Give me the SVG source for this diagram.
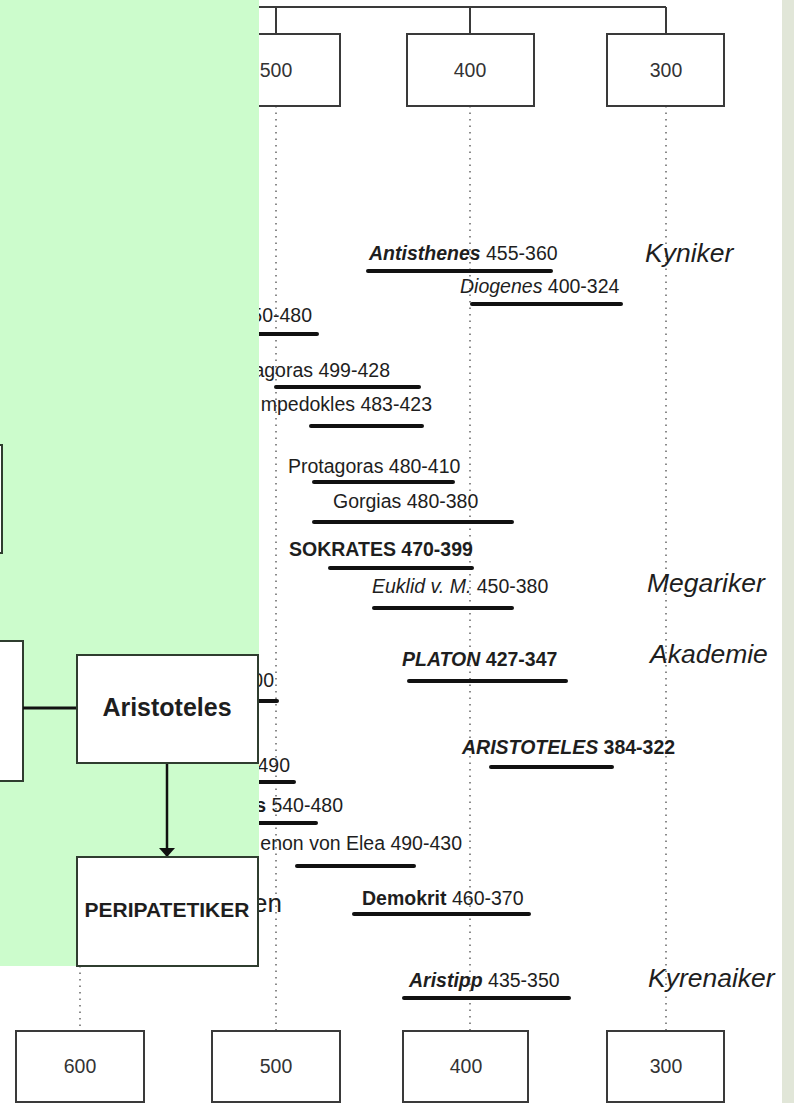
<svg xmlns="http://www.w3.org/2000/svg" width="794" height="1103" viewBox="0 0 794 1103">
<style>
text{font-family:"Liberation Sans",Arial,sans-serif;fill:#1e1e1e}
.yr{font-size:19.5px;text-anchor:middle;fill:#333}
.lb{font-size:19.5px}
.sch{font-size:26.5px;font-style:italic}
.b{font-weight:bold}
.i{font-style:italic}
.box{fill:#fff;stroke:#3a3a3a;stroke-width:2}
.gbox{fill:#fff;stroke:#2f3d2f;stroke-width:2}
.bar{stroke:#111;stroke-width:4;stroke-linecap:round}
.dot{stroke:#666;stroke-width:1.5;stroke-dasharray:1.5 5;fill:none}
.ln{stroke:#3a3a3a;stroke-width:2;fill:none}
</style>
<defs>
<marker id="ah" markerWidth="9" markerHeight="16" refX="9" refY="8" orient="auto" markerUnits="userSpaceOnUse" viewBox="0 0 9 16">
<path d="M0,0 L9,8 L0,16 Z" fill="#111"/>
</marker>
</defs>
<rect width="794" height="1103" fill="#fff"/>
<rect x="782" y="0" width="12" height="1103" fill="#e1e6d8"/>

<g id="connectors">
<path class="ln" d="M259,7 H666 M276,7 V34 M470,7 V34 M666,7 V34"/>
<path class="dot" d="M276,106 V1031 M470,106 V1031 M666,106 V1031 M80,966 V1031"/>
</g>

<g id="top-500"><rect class="box" x="212" y="34" width="128" height="72"/><text class="yr" x="276" y="77">500</text></g>
<g id="top-400"><rect class="box" x="407" y="34" width="127" height="72"/><text class="yr" x="470" y="77">400</text></g>
<g id="top-300"><rect class="box" x="607" y="34" width="117" height="72"/><text class="yr" x="666" y="77">300</text></g>

<g id="bot-600"><rect class="box" x="16" y="1031" width="128" height="71"/><text class="yr" x="80" y="1073">600</text></g>
<g id="bot-500"><rect class="box" x="212" y="1031" width="128" height="71"/><text class="yr" x="276" y="1073">500</text></g>
<g id="bot-400"><rect class="box" x="403" y="1031" width="125" height="71"/><text class="yr" x="466" y="1073">400</text></g>
<g id="bot-300"><rect class="box" x="607" y="1031" width="117" height="71"/><text class="yr" x="666" y="1073">300</text></g>

<g id="antisthenes"><text class="lb" x="369" y="260"><tspan class="b i">Antisthenes</tspan> 455-360</text><line class="bar" x1="368" y1="271" x2="551" y2="271"/></g>
<g id="diogenes"><text class="lb" x="460" y="293"><tspan class="i">Diogenes</tspan> 400-324</text><line class="bar" x1="472" y1="304" x2="621" y2="304"/></g>
<g id="p1"><text class="lb" x="312" y="322" text-anchor="end">50-480</text><line class="bar" x1="250" y1="334" x2="317" y2="334"/></g>
<g id="anaxagoras"><text class="lb" x="390" y="377" text-anchor="end">agoras 499-428</text><line class="bar" x1="276" y1="387" x2="419" y2="387"/></g>
<g id="empedokles"><text class="lb" x="432" y="411" text-anchor="end">mpedokles 483-423</text><line class="bar" x1="311" y1="426" x2="422" y2="426"/></g>
<g id="protagoras"><text class="lb" x="288" y="473">Protagoras 480-410</text><line class="bar" x1="314" y1="482" x2="453" y2="482"/></g>
<g id="gorgias"><text class="lb" x="333" y="508">Gorgias 480-380</text><line class="bar" x1="314" y1="522" x2="512" y2="522"/></g>
<g id="sokrates"><text class="lb b" x="289" y="556">SOKRATES 470-399</text><line class="bar" x1="330" y1="568" x2="472" y2="568"/></g>
<g id="euklid"><text class="lb" x="372" y="593"><tspan class="i">Euklid v. M.</tspan> 450-380</text><line class="bar" x1="374" y1="608" x2="512" y2="608"/></g>
<g id="megariker"><text class="sch" x="647" y="592">Megariker</text></g>
<g id="akademie"><text class="sch" x="650" y="663">Akademie</text></g>
<g id="platon"><text class="lb b" x="402" y="666"><tspan class="i">PLATON</tspan> 427-347</text><line class="bar" x1="409" y1="681" x2="566" y2="681"/></g>
<g id="p2"><text class="lb" x="274" y="687" text-anchor="end">00</text><line class="bar" x1="250" y1="701" x2="277" y2="701"/></g>
<g id="aristoteles-tl"><text class="lb b" x="462" y="754"><tspan class="i">ARISTOTELES</tspan> 384-322</text><line class="bar" x1="491" y1="767" x2="612" y2="767"/></g>
<g id="p3"><text class="lb" x="290" y="772" text-anchor="end">490</text><line class="bar" x1="250" y1="782" x2="294" y2="782"/></g>
<g id="p4"><text class="lb" x="343" y="812" text-anchor="end"><tspan class="b">s</tspan> 540-480</text><line class="bar" x1="250" y1="823" x2="316" y2="823"/></g>
<g id="zenon"><text class="lb" x="462" y="850" text-anchor="end">enon von Elea 490-430</text><line class="bar" x1="297" y1="866" x2="414" y2="866"/></g>
<g id="p5"><text x="282" y="912" text-anchor="end" style="font-size:26px">en</text></g>
<g id="demokrit"><text class="lb" x="362" y="905"><tspan class="b">Demokrit</tspan> 460-370</text><line class="bar" x1="354" y1="914" x2="529" y2="914"/></g>
<g id="aristipp"><text class="lb" x="409" y="987"><tspan class="b i">Aristipp</tspan> 435-350</text><line class="bar" x1="404" y1="998" x2="569" y2="998"/></g>
<g id="kyniker"><text class="sch" x="645" y="262">Kyniker</text></g>
<g id="kyrenaiker"><text class="sch" x="648" y="987">Kyrenaiker</text></g>

<g id="panel">
<rect x="0" y="0" width="259" height="966" fill="#ccfccc"/>
<g id="box-left-top"><rect class="gbox" x="-20" y="445" width="22" height="108"/></g>
<g id="box-left"><rect class="gbox" x="-20" y="641" width="43" height="140"/></g>
<g id="panel-connectors">
<line x1="23" y1="708" x2="77" y2="708" stroke="#111" stroke-width="3"/>
<line x1="167" y1="763" x2="167" y2="857" stroke="#111" stroke-width="2.5" marker-end="url(#ah)"/>
</g>
<g id="aristoteles"><rect class="gbox" x="77" y="655" width="181" height="108"/><text x="167" y="716" text-anchor="middle" class="b" style="font-size:25px">Aristoteles</text></g>
<g id="peripatetiker"><rect class="gbox" x="77" y="857" width="181" height="109"/><text x="167" y="917" text-anchor="middle" class="b" style="font-size:21px">PERIPATETIKER</text></g>
</g>
</svg>
